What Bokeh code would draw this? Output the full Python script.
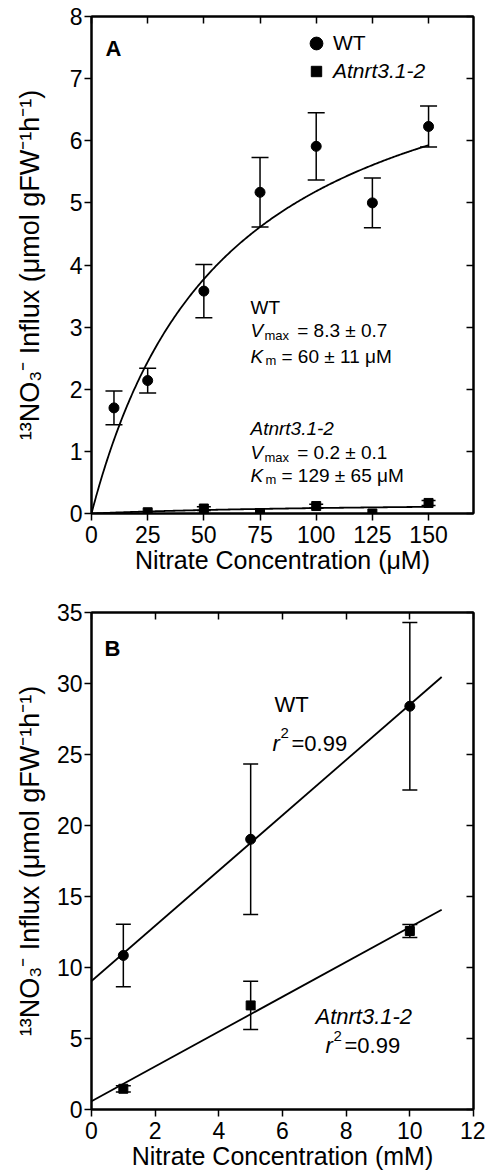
import numpy as np
from bokeh.plotting import figure
from bokeh.models import (Label, LinearAxis, Range1d, FixedTicker, Whisker,
                          ColumnDataSource, TeeHead, Legend, LegendItem)
from bokeh.layouts import column
from bokeh.embed import file_html
from bokeh.resources import INLINE

FONT = "Liberation Sans"

# ---------------- Panel A data (µM range) ----------------
conc_uM = [10, 25, 50, 75, 100, 125, 150]
wt_influx_A = [1.70, 2.14, 3.58, 5.17, 5.91, 5.00, 6.23]
wt_err_A = [0.27, 0.20, 0.43, 0.56, 0.54, 0.40, 0.33]
mut_conc_uM = [25, 50, 75, 100, 125, 150]
mut_influx_A = [0.02, 0.08, 0.00, 0.12, 0.00, 0.17]
mut_err_A = [0.00, 0.03, 0.00, 0.03, 0.00, 0.04]
wt_vmax, wt_km = 8.3, 60
mut_vmax, mut_km = 0.2, 129
xticks_A = [0, 25, 50, 75, 100, 125, 150]
yticks_A = [0, 1, 2, 3, 4, 5, 6, 7, 8]

# ---------------- Panel B data (mM range) ----------------
conc_mM = [1, 5, 10]
wt_influx_B = [10.85, 19.03, 28.4]
wt_err_B = [2.2, 5.3, 5.9]
mut_influx_B = [1.46, 7.33, 12.57]
mut_err_B = [0.22, 1.7, 0.45]
xticks_B = [0, 2, 4, 6, 8, 10, 12]
yticks_B = [0, 5, 10, 15, 20, 25, 30, 35]

YLABEL = "¹³NO₃⁻ Influx (μmol gFW⁻¹h⁻¹)"
XLABEL_A = "Nitrate Concentration (μM)"
XLABEL_B = "Nitrate Concentration (mM)"


def style_axis(ax, ticks, show, tin, tout):
    ax.ticker = FixedTicker(ticks=ticks)
    ax.axis_line_width = 2
    ax.axis_line_color = "black"
    ax.major_tick_line_width = 1.5
    ax.major_tick_line_color = "black"
    ax.major_tick_in = tin
    ax.major_tick_out = tout
    ax.minor_tick_line_color = None
    ax.major_label_text_font = FONT
    ax.major_label_text_color = "black"
    ax.major_label_text_font_size = "23px"
    if not show:
        ax.major_label_overrides = {t: "" for t in ticks}
        ax.major_label_standoff = 0
        ax.major_label_text_font_size = "2px"


def make_fig(xr, yr, xt, yt, height, top, bottom, xlabel, ylabel, ylab_standoff):
    p = figure(width=485, height=height, x_range=Range1d(*xr), y_range=Range1d(*yr),
               output_backend="svg", toolbar_location=None,
               min_border_left=91, min_border_right=12,
               min_border_top=top, min_border_bottom=bottom)
    p.xgrid.visible = False
    p.ygrid.visible = False
    p.outline_line_color = "black"
    p.outline_line_width = 2
    p.background_fill_color = "white"
    p.border_fill_color = "white"
    bottom_ax = p.below[0]
    left_ax = p.left[0]
    style_axis(bottom_ax, xt, True, 0, 7)
    style_axis(left_ax, yt, True, 0, 7)
    bottom_ax.major_label_standoff = 5
    left_ax.major_label_standoff = 2
    bottom_ax.axis_label = xlabel
    left_ax.axis_label = ylabel
    for ax in (bottom_ax, left_ax):
        ax.axis_label_text_font = FONT
        ax.axis_label_text_font_style = "normal"
        ax.axis_label_text_color = "black"
    bottom_ax.axis_label_text_font_size = "25px"
    left_ax.axis_label_text_font_size = "27px"
    bottom_ax.axis_label_standoff = 0
    left_ax.axis_label_standoff = ylab_standoff
    top_ax = LinearAxis()
    right_ax = LinearAxis()
    style_axis(top_ax, xt, False, 7, 0)
    style_axis(right_ax, yt, False, 7, 0)
    p.add_layout(top_ax, "above")
    p.add_layout(right_ax, "right")
    return p


def add_text(p, fx, fy, px, py, text, size, style="normal", align="left",
             baseline="alphabetic"):
    p.add_layout(Label(x=fx(px), y=fy(py), text=text, text_font=FONT,
                       text_font_size=f"{size}px", text_font_style=style,
                       text_color="black", text_align=align,
                       text_baseline=baseline))


def add_errors(p, xs, ys, errs, cap):
    xs2 = [x for x, e in zip(xs, errs) if e > 0]
    lo = [y - e for y, e in zip(ys, errs) if e > 0]
    hi = [y + e for y, e in zip(ys, errs) if e > 0]
    src = ColumnDataSource(dict(x=xs2, lower=lo, upper=hi))
    w = Whisker(base="x", lower="lower", upper="upper", source=src,
                dimension="height", line_color="black", line_width=1.5,
                upper_head=TeeHead(size=cap, line_width=1.5, line_color="black"),
                lower_head=TeeHead(size=cap, line_width=1.5, line_color="black"))
    p.add_layout(w)


# ================= Panel A =================
pA = make_fig((0, 170), (0, 8), xticks_A, yticks_A, 590, 16, 77,
              XLABEL_A, YLABEL, 22)
fxA = lambda px: (px - 91) * 170 / 382
fyA = lambda py: (513 - py) * 8 / 497

s = np.linspace(0, 150, 301)
pA.line(s, wt_vmax * s / (wt_km + s), line_color="black", line_width=1.8)
pA.line(s, mut_vmax * s / (mut_km + s), line_color="black", line_width=1.8)
add_errors(pA, conc_uM, wt_influx_A, wt_err_A, 17)
add_errors(pA, mut_conc_uM, mut_influx_A, mut_err_A, 14)
r_wt = pA.scatter(conc_uM, wt_influx_A, marker="circle", size=10, color="black")
r_mut = pA.scatter(mut_conc_uM, mut_influx_A, marker="square", size=9, color="black")

# two single-item legends (second one italic); marker size follows glyph box
for item, loc, st, gsz, stand in (
        (LegendItem(label="WT", renderers=[r_wt]), (209, 454), "normal", 32, 1),
        (LegendItem(label="Atnrt3.1-2", renderers=[r_mut]), (212, 429), "italic", 26, 4)):
    lg = Legend(items=[item], location=loc, border_line_color=None,
                background_fill_alpha=0, padding=0, margin=0, spacing=0,
                glyph_width=gsz, glyph_height=gsz, label_standoff=stand,
                label_text_font=FONT, label_text_font_size="21px",
                label_text_font_style=st, label_text_color="black")
    pA.add_layout(lg, "center")

add_text(pA, fxA, fyA, 105, 48, "A", 22, "bold")
add_text(pA, fxA, fyA, 250, 306.7, "WT", 19)
add_text(pA, fxA, fyA, 250, 330, "V", 19, "italic")
add_text(pA, fxA, fyA, 264, 335, "max", 13)
add_text(pA, fxA, fyA, 296.7, 330, "= 8.3 ± 0.7", 19)
add_text(pA, fxA, fyA, 250, 356, "K", 19, "italic")
add_text(pA, fxA, fyA, 265, 360, "m", 13)
add_text(pA, fxA, fyA, 281, 356, "= 60 ± 11 μM", 19)
add_text(pA, fxA, fyA, 250, 428.3, "Atnrt3.1-2", 19, "italic")
add_text(pA, fxA, fyA, 250, 452.3, "V", 19, "italic")
add_text(pA, fxA, fyA, 264, 457.3, "max", 13)
add_text(pA, fxA, fyA, 296.7, 452.3, "= 0.2 ± 0.1", 19)
add_text(pA, fxA, fyA, 250, 475, "K", 19, "italic")
add_text(pA, fxA, fyA, 265, 479, "m", 13)
add_text(pA, fxA, fyA, 281, 475, "= 129 ± 65 μM", 19)

# ================= Panel B =================
pB = make_fig((0, 12), (0, 35), xticks_B, yticks_B, 586, 22, 67,
              XLABEL_B, YLABEL, 9)
fxB = lambda px: (px - 91) * 12 / 382
fyB = lambda py: (1109 - py) * 35 / 497

xl = np.array([0.0, 11.0])
for ys in (wt_influx_B, mut_influx_B):
    m, b = np.polyfit(conc_mM, ys, 1)
    pB.line(xl, m * xl + b, line_color="black", line_width=1.8)
add_errors(pB, conc_mM, wt_influx_B, wt_err_B, 15)
add_errors(pB, conc_mM, mut_influx_B, mut_err_B, 15)
pB.scatter(conc_mM, wt_influx_B, marker="circle", size=10, color="black")
pB.scatter(conc_mM, mut_influx_B, marker="square", size=9, color="black")

add_text(pB, fxB, fyB, 104, 648, "B", 22, "bold")
add_text(pB, fxB, fyB, 274, 704, "WT", 22)
add_text(pB, fxB, fyB, 272, 742.5, "r", 22, "italic")
add_text(pB, fxB, fyB, 280, 732, "2", 15)
add_text(pB, fxB, fyB, 291, 742.5, "=0.99", 22)
add_text(pB, fxB, fyB, 315, 1016, "Atnrt3.1-2", 22, "italic")
add_text(pB, fxB, fyB, 325, 1045, "r", 22, "italic")
add_text(pB, fxB, fyB, 333, 1035, "2", 15)
add_text(pB, fxB, fyB, 344, 1045, "=0.99", 22)

layout = column(pA, pB, spacing=0)
open("out.html", "w").write(file_html(layout, INLINE))
